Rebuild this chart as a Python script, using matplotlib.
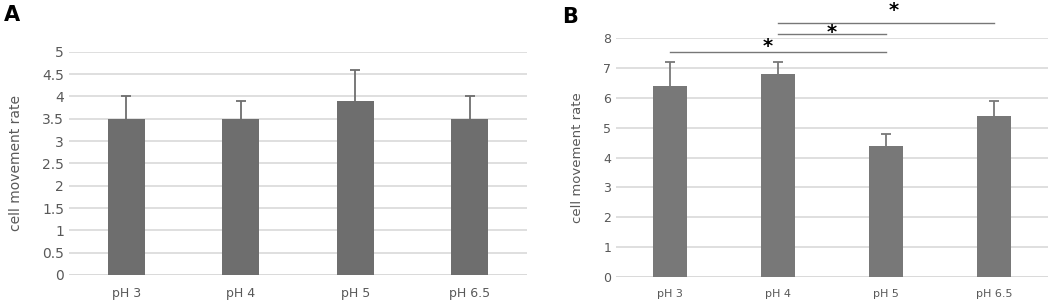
import matplotlib.pyplot as plt

labels = ['pH 3', 'pH 4', 'pH 5', 'pH 6.5']

# panel A
rate_a = [3.5, 3.5, 3.9, 3.5]
err_a = [0.5, 0.4, 0.7, 0.5]

# panel B
rate_b = [6.4, 6.8, 4.4, 5.4]
err_b = [0.8, 0.4, 0.4, 0.5]

# significance brackets in B: (from, to, height, star x, star y)
sig_b = [(0, 2, 7.53, 0.9, 7.72),
         (1, 2, 8.13, 1.5, 8.2),
         (1, 3, 8.5, 2.07, 8.92)]

tick_col = '#595959'
grid_col = '#d9d9d9'

fig = plt.figure(figsize=(10.52, 3.04), dpi=100)
ax_a = fig.add_axes([0.0656, 0.0954, 0.4354, 0.734])
ax_b = fig.add_axes([0.5856, 0.0898, 0.4106, 0.784])


def style(ax, ymax, step, fs):
    ax.set_ylim(0, ymax)
    ax.set_xlim(-0.5, 3.5)
    ticks = [i * step for i in range(int(round(ymax / step)) + 1)]
    ax.set_yticks(ticks)
    ax.set_yticklabels([('%g' % t) for t in ticks])
    ax.set_xticks(range(len(labels)))
    ax.set_xticklabels(labels)
    for s in ax.spines.values():
        s.set_visible(False)
    ax.yaxis.grid(True, color=grid_col, linewidth=1.2)
    ax.set_axisbelow(True)
    ax.tick_params(length=0, colors=tick_col, labelsize=fs)
    ax.tick_params(axis='x', pad=9, labelsize=fs - 1)
    ax.axhline(0, color=grid_col, linewidth=1.2, zorder=0)


def bars(ax, vals, errs, col, w):
    ax.bar(range(len(vals)), vals, width=w, color=col, zorder=2)
    tops = [v + e for v, e in zip(vals, errs)]
    ax.vlines(range(len(vals)), vals, tops, color=col, linewidth=1.3, zorder=3)
    ax.plot(range(len(vals)), tops, ls='none', marker='_', ms=7, mew=1.3,
            color=col, zorder=3)


bars(ax_a, rate_a, err_a, '#6e6e6e', 0.32)
style(ax_a, 5, 0.5, 10)
ax_a.set_ylabel('cell movement rate', color=tick_col, fontsize=10, labelpad=14)
fig.text(0.004, 0.93, 'A', fontsize=15, fontweight='bold')

bars(ax_b, rate_b, err_b, '#787878', 0.31)
style(ax_b, 8, 1, 9)
ax_b.set_ylabel('cell movement rate', color=tick_col, fontsize=9.5, labelpad=14)
fig.text(0.534, 0.925, 'B', fontsize=15, fontweight='bold')

for x0, x1, h, sx, sy in sig_b:
    ax_b.plot([x0, x1], [h, h], color='#777777', linewidth=1, clip_on=False)
    ax_b.text(sx, sy, '*', ha='center', va='center', fontsize=14,
              fontweight='bold', clip_on=False)

fig.savefig('out.png', dpi=100, facecolor='white')
